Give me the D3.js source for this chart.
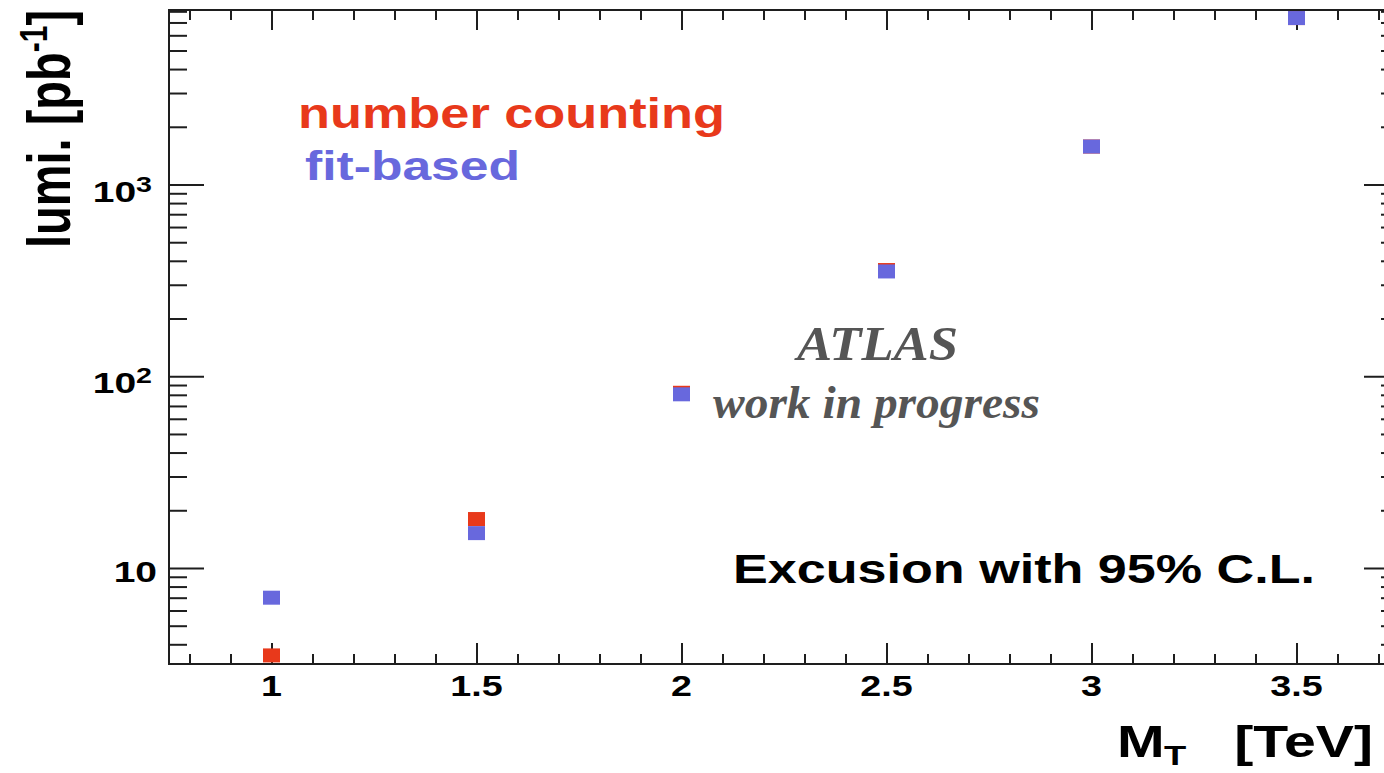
<!DOCTYPE html>
<html>
<head>
<meta charset="utf-8">
<script src="https://cdn.jsdelivr.net/npm/d3@7"></script>
<style>
  html, body { margin: 0; padding: 0; background: #fff; overflow: hidden; }
  svg { display: block; }
  text { font-family: "Liberation Sans", Arial, Helvetica, sans-serif; font-weight: bold; }
</style>
</head>
<body>
<svg id="chart" width="1384" height="773"></svg>
<script>
// Transverse mass points (TeV)
const massPoints = [1, 1.5, 2, 2.5, 3, 3.5];
// Luminosity needed for exclusion at 95% C.L. (pb^-1)
const countingLumi = [3.5, 18, 82, 358, 1578, 7380];
const fitLumi = [7.0, 15.2, 80.5, 352, 1578, 7380];

// Axis ticks
const xMajorTicks = [1, 1.5, 2, 2.5, 3, 3.5];
const xMinorTicks = d3.range(8, 38).map(d => d / 10).filter(d => !xMajorTicks.includes(d));
const xTickLabels = ["1", "1.5", "2", "2.5", "3", "3.5"];
const yMajorTicks = [10, 100, 1000];
const yTickBase = ["10", "10", "10"];
const yTickExp = ["", "2", "3"];
const yMinorTicks = [4, 5, 6, 7, 8, 9, 20, 30, 40, 50, 60, 70, 80, 90,
                     200, 300, 400, 500, 600, 700, 800, 900,
                     2000, 3000, 4000, 5000, 6000, 7000, 8000];

const colCounting = "#e8391b";
const colFit = "#6868dd";
const ink = "#1e1e1e";
const sx = 1.3; // horizontal stretch of the sans-serif lettering

const svg = d3.select("#chart");
const plotLeft = 169, plotRight = 1399, plotTop = 10, plotBottom = 664;

const x = d3.scaleLinear().domain([0.75, 3.75]).range([plotLeft, plotRight]);
const y = d3.scaleLog().domain([3.157, 8130]).range([plotBottom, plotTop]);

function styleAxis(g) {
  g.select(".domain").remove();
  g.selectAll("line").attr("stroke", ink).attr("stroke-width", 2);
  g.selectAll("text").remove();
}

// Bottom and top ticks (pointing inward)
svg.append("g").attr("transform", `translate(0,${plotBottom})`)
  .call(d3.axisBottom(x).tickValues(xMajorTicks).tickSize(-21).tickSizeOuter(0)).call(styleAxis);
svg.append("g").attr("transform", `translate(0,${plotBottom})`)
  .call(d3.axisBottom(x).tickValues(xMinorTicks).tickSize(-10).tickSizeOuter(0)).call(styleAxis);
svg.append("g").attr("transform", `translate(0,${plotTop})`)
  .call(d3.axisTop(x).tickValues(xMajorTicks).tickSize(-20).tickSizeOuter(0)).call(styleAxis);
svg.append("g").attr("transform", `translate(0,${plotTop})`)
  .call(d3.axisTop(x).tickValues(xMinorTicks).tickSize(-10).tickSizeOuter(0)).call(styleAxis);

// Left and right ticks (pointing inward)
svg.append("g").attr("transform", `translate(${plotLeft},0)`)
  .call(d3.axisLeft(y).tickValues(yMajorTicks).tickSize(-35).tickSizeOuter(0)).call(styleAxis);
svg.append("g").attr("transform", `translate(${plotLeft},0)`)
  .call(d3.axisLeft(y).tickValues(yMinorTicks).tickSize(-18).tickSizeOuter(0)).call(styleAxis);
svg.append("g").attr("transform", `translate(${plotRight},0)`)
  .call(d3.axisRight(y).tickValues(yMajorTicks).tickSize(-35).tickSizeOuter(0)).call(styleAxis);
svg.append("g").attr("transform", `translate(${plotRight},0)`)
  .call(d3.axisRight(y).tickValues(yMinorTicks).tickSize(-18).tickSizeOuter(0)).call(styleAxis);

// Frame
svg.append("rect")
  .attr("x", plotLeft).attr("y", plotTop)
  .attr("width", plotRight - plotLeft).attr("height", plotBottom - plotTop)
  .attr("fill", "none").attr("stroke", ink).attr("stroke-width", 2);

// X tick labels
xMajorTicks.forEach((v, i) => {
  svg.append("text")
    .attr("transform", `translate(${x(v)},696) scale(${sx},1)`)
    .attr("text-anchor", "middle")
    .attr("font-size", 29).attr("fill", "#000")
    .text(xTickLabels[i]);
});

// Y tick labels with exponents
yMajorTicks.forEach((v, i) => {
  const hasExp = yTickExp[i] !== "";
  const t = svg.append("text")
    .attr("transform", `translate(${hasExp ? 152 : 157},${y(v) + (hasExp ? 17 : 14)}) scale(${sx},1)`)
    .attr("text-anchor", "end")
    .attr("font-size", 30).attr("fill", "#000");
  t.append("tspan").text(yTickBase[i]);
  if (hasExp) {
    t.append("tspan").attr("font-size", 22).attr("dy", -10).text(yTickExp[i]);
  }
});

// Data markers: counting first, fit-based drawn on top
const mw = 17, mh = 14;
svg.append("g").selectAll("rect")
  .data(massPoints.map((m, i) => [m, countingLumi[i]]))
  .join("rect")
  .attr("x", d => x(d[0]) - mw / 2).attr("y", d => y(d[1]) - mh / 2)
  .attr("width", mw).attr("height", mh)
  .attr("fill", colCounting);
svg.append("g").selectAll("rect")
  .data(massPoints.map((m, i) => [m, fitLumi[i]]))
  .join("rect")
  .attr("x", d => x(d[0]) - mw / 2).attr("y", d => y(d[1]) - mh / 2)
  .attr("width", mw).attr("height", mh)
  .attr("fill", colFit);

// Legend
svg.append("text").attr("x", 298).attr("y", 128)
  .attr("font-size", 42).attr("fill", colCounting)
  .attr("textLength", 427).attr("lengthAdjust", "spacingAndGlyphs")
  .text("number counting");
svg.append("text").attr("x", 305).attr("y", 180)
  .attr("font-size", 41).attr("fill", colFit)
  .attr("textLength", 215).attr("lengthAdjust", "spacingAndGlyphs")
  .text("fit-based");

// Annotations
svg.append("text").attr("x", 733).attr("y", 583)
  .attr("font-size", 40).attr("fill", "#000")
  .attr("textLength", 582).attr("lengthAdjust", "spacingAndGlyphs")
  .text("Excusion with 95% C.L.");

svg.append("text").attr("x", 797).attr("y", 360)
  .style("font-family", "'Liberation Serif', 'Times New Roman', serif")
  .attr("font-style", "italic")
  .attr("font-size", 48).attr("fill", "#555")
  .attr("textLength", 161).attr("lengthAdjust", "spacingAndGlyphs")
  .text("ATLAS");
svg.append("text").attr("x", 713).attr("y", 418)
  .style("font-family", "'Liberation Serif', 'Times New Roman', serif")
  .attr("font-style", "italic")
  .attr("font-size", 46).attr("fill", "#555")
  .attr("textLength", 327).attr("lengthAdjust", "spacingAndGlyphs")
  .text("work in progress");

// Axis titles
const yTitle = svg.append("text")
  .attr("transform", `translate(70,248) scale(${sx},1) rotate(-90)`)
  .attr("font-size", 47).attr("fill", "#000");
yTitle.append("tspan").text("lumi. [pb");
yTitle.append("tspan").attr("font-size", 30).attr("dy", -18).text("-1");
yTitle.append("tspan").attr("dy", 18).text("]");

const xTitle = svg.append("g");
xTitle.append("text")
  .attr("transform", `translate(1117,757) scale(${sx},1)`)
  .attr("font-size", 44).attr("fill", "#000").text("M");
xTitle.append("text")
  .attr("transform", `translate(1164,765) scale(${sx},1)`)
  .attr("font-size", 28).attr("fill", "#000").text("T");
xTitle.append("text")
  .attr("transform", `translate(1373,757) scale(${sx},1)`)
  .attr("text-anchor", "end")
  .attr("font-size", 44).attr("fill", "#000").text("[TeV]");
</script>
</body>
</html>
